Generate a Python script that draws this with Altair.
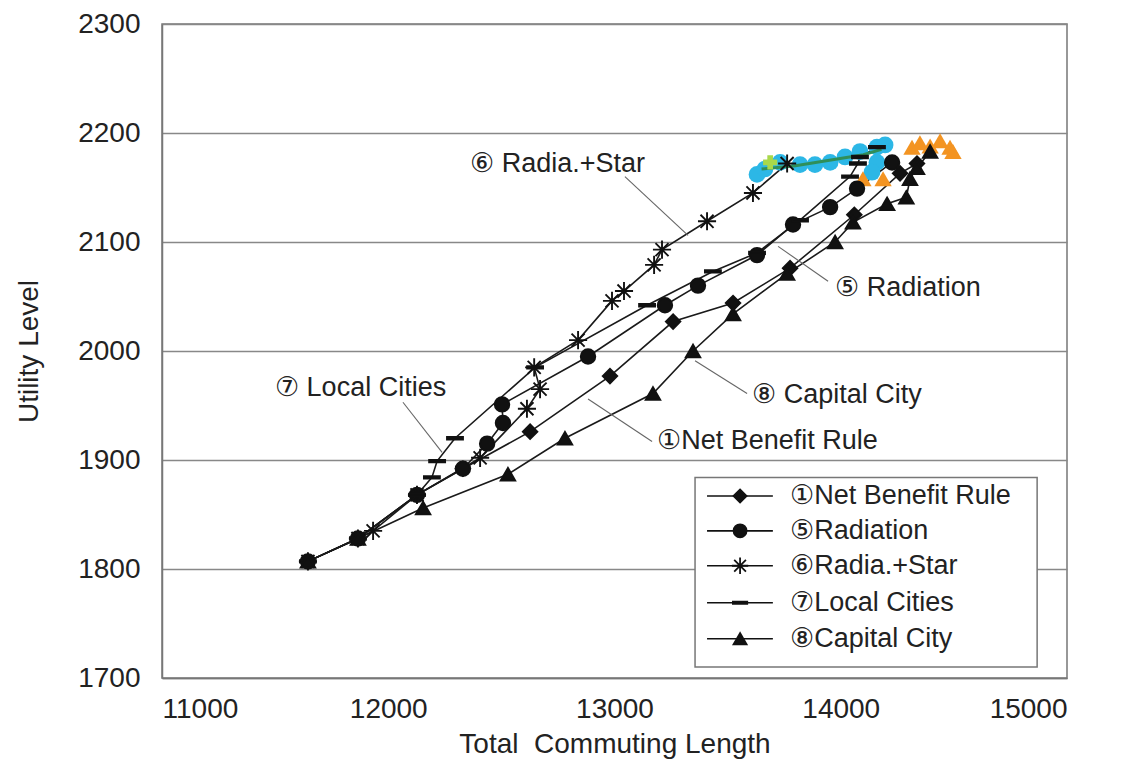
import altair as alt
import pandas as pd

FONT = "Liberation Sans, Arial, DejaVu Sans, sans-serif"

series_names = ["①Net Benefit Rule", "⑤Radiation", "⑥Radia.+Star", "⑦Local Cities", "⑧Capital City"]

nb_x = [11645, 11866, 12127, 12330, 12627, 12980, 13259, 13524, 13776, 14060, 14262, 14337]
nb_y = [1807, 1828, 1868, 1892, 1926, 1977, 2027, 2044, 2076, 2125, 2163, 2172]

rad_x = [11645, 11866, 12127, 12330, 12437, 12507, 12503, 12883, 13223, 13369, 13630, 13789, 13953, 14072, 14227]
rad_y = [1807, 1828, 1868, 1892, 1915, 1934, 1951, 1995, 2042, 2060, 2088, 2116, 2132, 2149, 2173]

star_x = [11645, 11866, 11933, 12127, 12406, 12613, 12671, 12645, 12839, 12989, 13042, 13175, 13210, 13409, 13612, 13763]
star_y = [1807, 1828, 1835, 1868, 1902, 1947, 1965, 1985, 2010, 2046, 2055, 2079, 2093, 2119, 2145, 2172]

loc_x = [11645, 11866, 12127, 12193, 12216, 12295, 12649, 13144, 13435, 13630, 13820, 14041, 14076, 14085, 14160]
loc_y = [1807, 1828, 1868, 1884, 1899, 1920, 1985, 2042, 2073, 2090, 2120, 2160, 2172, 2178, 2187]

cap_x = [11645, 11866, 12154, 12529, 12781, 13170, 13347, 13524, 13763, 13975, 14054, 14205, 14290, 14306, 14337, 14395]
cap_y = [1807, 1828, 1856, 1887, 1920, 1961, 2000, 2034, 2071, 2100, 2118, 2135, 2141, 2158, 2168, 2183]

# coloured overlay markers near the end of the runs
cyan_x = [13630, 13665, 13732, 13820, 13886, 13953, 14019, 14085, 14160, 14196, 14160, 14138]
cyan_y = [2162, 2167, 2173, 2171, 2171, 2173, 2178, 2183, 2187, 2189, 2173, 2164]
orange_x = [14098, 14187, 14315, 14350, 14395, 14439, 14483, 14496]
orange_y = [2158, 2158, 2187, 2191, 2188, 2193, 2187, 2183]
green_x = [13650, 13800, 13950, 14100, 14180]
green_y = [2167, 2170, 2175, 2180, 2185]
lime_x = [13688]
lime_y = [2173]

# annotations (callout labels with leader lines), in data units
ann_text = ["⑥ Radia.+Star", "⑤ Radiation", "⑦ Local Cities", "⑧ Capital City", "①Net Benefit Rule"]
ann_tx = [12361, 13975, 11499, 13608, 13188]
ann_ty = [2172, 2058, 1966, 1960, 1917]
lead_x1 = [13046, 13723, 12065, 13356, 12883]
lead_y1 = [2160, 2096, 1953, 1991, 1956]
lead_x2 = [13325, 13944, 12238, 13586, 13166]
lead_y2 = [2106, 2064, 1907, 1961, 1917]

# legend layout, in data units
leg_y = [1867, 1835, 1803, 1769, 1736]
leg_line_x = [13409, 13700]
leg_mark_x = 13555
leg_text_x = 13776
leg_box_x = [13356, 14868]
leg_box_y = [1710, 1884]

xs = [nb_x, rad_x, star_x, loc_x, cap_x]
ys = [nb_y, rad_y, star_y, loc_y, cap_y]
rows = []
for name, sx, sy in zip(series_names, xs, ys):
    for i, (a, b) in enumerate(zip(sx, sy)):
        rows.append({"series": name, "x": a, "y": b, "idx": i})
df = pd.DataFrame(rows)

df_cyan = pd.DataFrame({"x": cyan_x, "y": cyan_y})
df_orange = pd.DataFrame({"x": orange_x, "y": orange_y})
df_green = pd.DataFrame({"x": green_x, "y": green_y, "idx": list(range(len(green_x)))})
df_lime = pd.DataFrame({"x": lime_x, "y": lime_y})
df_ann = pd.DataFrame({"label": ann_text, "x": ann_tx, "y": ann_ty})
df_lead = pd.DataFrame({"x": lead_x1, "y": lead_y1, "x2": lead_x2, "y2": lead_y2})
df_leg = pd.DataFrame({
    "series": series_names,
    "y": leg_y,
    "x": [leg_line_x[0]] * 5,
    "x2": [leg_line_x[1]] * 5,
    "mx": [leg_mark_x] * 5,
    "tx": [leg_text_x] * 5,
})
df_box = pd.DataFrame({"x": [leg_box_x[0]], "x2": [leg_box_x[1]], "y": [leg_box_y[0]], "y2": [leg_box_y[1]]})

X_SCALE = alt.Scale(domain=[11000, 15000], nice=False, zero=False)
Y_SCALE = alt.Scale(domain=[1700, 2300], nice=False, zero=False)
X_AXIS = alt.Axis(values=[11000, 12000, 13000, 14000, 15000], grid=False,
                  labelPadding=17, titlePadding=7, format="d")
Y_AXIS = alt.Axis(values=[1700, 1800, 1900, 2000, 2100, 2200, 2300], grid=True,
                  labelPadding=22, titlePadding=34, format="d")
X_TITLE = "Total \u00a0Commuting Length"
Y_TITLE = "Utility Level"


def xe(field="x"):
    return alt.X(f"{field}:Q", scale=X_SCALE, axis=X_AXIS, title=X_TITLE)


def ye(field="y"):
    return alt.Y(f"{field}:Q", scale=Y_SCALE, axis=Y_AXIS, title=Y_TITLE)


marker_paths = [
    "diamond",
    "circle",
    "M-1.25,0L1.25,0M0,-1.25L0,1.25M-0.9,-0.9L0.9,0.9M-0.9,0.9L0.9,-0.9",
    "M-1.1,-0.17L1.1,-0.17L1.1,0.17L-1.1,0.17Z",
    "triangle-up",
]
SHAPE = alt.Shape("series:N", scale=alt.Scale(domain=series_names, range=marker_paths), legend=None)

lines = alt.Chart(df).mark_line(color="#1a1a1a", strokeWidth=1.6).encode(
    x=xe(), y=ye(), detail="series:N", order="idx:Q")

cyan = alt.Chart(df_cyan).mark_point(filled=True, shape="circle", size=280, color="#2cb7e6", opacity=1).encode(
    x=xe(), y=ye())
green = alt.Chart(df_green).mark_line(color="#2f8f5a", strokeWidth=3).encode(
    x=xe(), y=ye(), order="idx:Q")
orange = alt.Chart(df_orange).mark_point(filled=True, shape="triangle-up", size=300, color="#f39422", opacity=1).encode(
    x=xe(), y=ye())
lime = alt.Chart(df_lime).mark_point(shape="cross", size=200, color="#a8d84a", filled=True, opacity=1).encode(
    x=xe(), y=ye())

points = alt.Chart(df).mark_point(filled=True, fill="#111", stroke="#111", strokeWidth=1.9, size=210, opacity=1).encode(
    x=xe(), y=ye(), shape=SHAPE)

leads = alt.Chart(df_lead).mark_rule(color="#666", strokeWidth=1.1).encode(
    x=xe(), y=ye(), x2="x2:Q", y2="y2:Q")
ann = alt.Chart(df_ann).mark_text(align="left", baseline="middle", fontSize=27, font=FONT, color="#222").encode(
    x=xe(), y=ye(), text="label:N")

box = alt.Chart(df_box).mark_rect(fill="white", stroke="#777", strokeWidth=1.5).encode(
    x=xe(), x2="x2:Q", y=ye(), y2="y2:Q")
leg_lines = alt.Chart(df_leg).mark_rule(color="#111", strokeWidth=1.6).encode(
    x=xe(), x2="x2:Q", y=ye())
leg_marks = alt.Chart(df_leg).mark_point(filled=True, fill="#111", stroke="#111", strokeWidth=1.8, size=170, opacity=1).encode(
    x=xe("mx"), y=ye(), shape=SHAPE)
leg_text = alt.Chart(df_leg).mark_text(align="left", baseline="middle", fontSize=27, font=FONT, color="#222").encode(
    x=xe("tx"), y=ye(), text="series:N")

chart = alt.layer(lines, cyan, green, orange, lime, points, leads, ann,
                  box, leg_lines, leg_marks, leg_text).properties(
    width=905, height=654,
    autosize=alt.AutoSizeParams(type="none"),
    padding={"left": 154, "top": 16, "right": 60, "bottom": 86},
).configure_axis(
    labelFont=FONT, labelFontSize=28, labelColor="#222",
    titleFont=FONT, titleFontSize=28, titleFontWeight="normal", titleColor="#222",
    domainColor="#777", domainWidth=1.5, gridColor="#888", gridWidth=1.5, ticks=False,
).configure_view(stroke="#777", strokeWidth=1.5)

chart.save("out.html", embed_options={"renderer": "svg", "actions": False})
